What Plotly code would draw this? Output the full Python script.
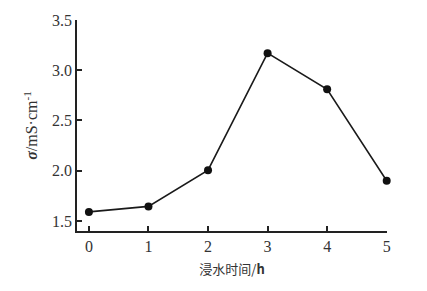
import plotly.graph_objects as go

hours = [0, 1, 2, 3, 4, 5]
sigma = [1.59, 1.645, 2.005, 3.17, 2.81, 1.90]
y_ticks = [1.5, 2.0, 2.5, 3.0, 3.5]
y_ticklabels = ["1.5", "2.0", "2.5", "3.0", "3.5"]
x_title = "浸水时间/<b>h</b>"
y_title = "<b><i>σ</i></b>/mS·cm<sup>-1</sup>"

fig = go.Figure(go.Scatter(
    x=hours, y=sigma, mode="lines+markers",
    line=dict(color="#1a1a1a", width=1.6),
    marker=dict(color="#111111", size=8),
    showlegend=False, cliponaxis=False,
))

font_serif = "Liberation Serif"

fig.update_layout(
    width=427, height=291,
    margin=dict(l=77, r=40, t=15, b=60),
    paper_bgcolor="white", plot_bgcolor="white",
    font=dict(family=font_serif, size=16, color="#222"),
    xaxis=dict(
        range=[-0.2, 5.005], tickvals=hours, ticktext=[str(h) for h in hours],
        showline=True, linecolor="#222", linewidth=1.5,
        ticks="inside", ticklen=5, tickwidth=1.5, tickcolor="#222",
        showgrid=False, zeroline=False,
        tickfont=dict(family=font_serif, size=16, color="#333"),
        title=dict(text=x_title, standoff=11,
                   font=dict(family="Noto Sans CJK SC", size=13, color="#333")),
    ),
    yaxis=dict(
        range=[1.4, 3.5], tickvals=y_ticks, ticktext=y_ticklabels,
        showline=True, linecolor="#222", linewidth=1.5,
        ticks="inside", ticklen=5, tickwidth=1.5, tickcolor="#222",
        showgrid=False, zeroline=False,
        tickfont=dict(family=font_serif, size=16, color="#333"),
        title=dict(text=y_title, standoff=10,
                   font=dict(family=font_serif, size=16, color="#333")),
    ),
)

fig.write_html("out.html")
